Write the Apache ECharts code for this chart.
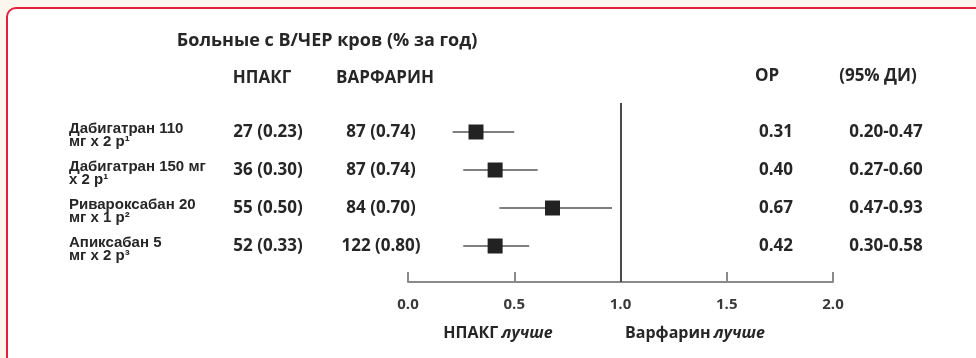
<!DOCTYPE html>
<html>
<head>
<meta charset="utf-8">
<script src="https://cdn.jsdelivr.net/npm/echarts@6/dist/echarts.min.js"></script>
<style>
html,body{margin:0;padding:0;background:#fdf6ee;}
#c{width:976px;height:358px;}
</style>
</head>
<body>
<div id="c"></div>
<script>
// ---- data ----
const categories = ['Дабигатран 110\nмг х 2 р¹', 'Дабигатран 150 мг\nх 2 р¹', 'Ривароксабан 20\nмг х 1 р²', 'Апиксабан 5\nмг х 2 р³'];
const npakgText = ['27 (0.23)', '36 (0.30)', '55 (0.50)', '52 (0.33)'];
const warfarinText = ['87 (0.74)', '87 (0.74)', '84 (0.70)', '122 (0.80)'];
const rrText = ['0.31', '0.40', '0.67', '0.42'];
const ciText = ['0.20-0.47', '0.27-0.60', '0.47-0.93', '0.30-0.58'];
// plotted marks as drawn in the picture
const rrPoint = [0.32, 0.41, 0.68, 0.41];
const ciLow = [0.21, 0.26, 0.43, 0.26];
const ciHigh = [0.50, 0.61, 0.96, 0.57];
const xTicks = [0, 0.5, 1.0, 1.5, 2.0];

const FONT = '"Open Sans", "Liberation Sans", sans-serif';
const TXT = '#262626';

const forestData = categories.map((c, i) => [i, ciLow[i], ciHigh[i], rrPoint[i]]);
const tableData = categories.map((c, i) => [i]);

const chart = echarts.init(document.getElementById('c'), null, {renderer: 'canvas'});
chart.setOption({
  backgroundColor: '#fdf6ee',
  animation: false,
  grid: {left: 408, right: 143, top: 103, bottom: 76},
  xAxis: {
    type: 'value', min: 0, max: 2, interval: 0.5,
    axisLine: {show: true, onZero: false, lineStyle: {color: '#8a8a8a', width: 2}},
    axisTick: {show: true, inside: true, length: 10, lineStyle: {color: '#8a8a8a', width: 2}},
    splitLine: {show: false},
    axisLabel: {margin: 15, color: '#3a3a3a', fontFamily: FONT, fontWeight: 'bold', fontSize: 15,
      formatter: v => v.toFixed(1)}
  },
  yAxis: {type: 'value', inverse: true, min: -0.763, max: 3.947, show: false},
  graphic: [
    {type: 'rect', z: -10, shape: {x: 7, y: 8, width: 1000, height: 400, r: 9},
     style: {fill: '#ffffff', stroke: '#e2203a', lineWidth: 2}},
    {type: 'text', x: 327, y: 41, style: {text: 'Больные с В/ЧЕР кров (% за год)', fill: TXT, font: 'bold 18px ' + FONT, textAlign: 'center', textVerticalAlign: 'middle'}},
    {type: 'text', x: 262, y: 78, style: {text: 'НПАКГ', fill: TXT, font: 'bold 17px ' + FONT, textAlign: 'center', textVerticalAlign: 'middle'}},
    {type: 'text', x: 385, y: 78, style: {text: 'ВАРФАРИН', fill: TXT, font: 'bold 17px ' + FONT, textAlign: 'center', textVerticalAlign: 'middle'}},
    {type: 'text', x: 767, y: 76, style: {text: 'ОР', fill: TXT, font: 'bold 17px ' + FONT, textAlign: 'center', textVerticalAlign: 'middle'}},
    {type: 'text', x: 878, y: 76, style: {text: '(95% ДИ)', fill: TXT, font: 'bold 17px ' + FONT, textAlign: 'center', textVerticalAlign: 'middle'}},
    {type: 'text', x: 498, y: 333, style: {text: '{a|НПАКГ} {i|лучше}', textAlign: 'center', textVerticalAlign: 'middle',
      rich: {a: {fill: TXT, font: 'bold 16px ' + FONT}, i: {fill: TXT, font: 'italic bold 16px ' + FONT}}}},
    {type: 'text', x: 695, y: 333, style: {text: '{a|Варфарин} {i|лучше}', textAlign: 'center', textVerticalAlign: 'middle',
      rich: {a: {fill: TXT, font: 'bold 16px ' + FONT}, i: {fill: TXT, font: 'italic bold 16px ' + FONT}}}}
  ],
  series: [
    {
      type: 'custom',
      data: forestData,
      encode: {x: [1, 2, 3], y: 0},
      renderItem: function (params, api) {
        const y = api.value(0);
        const p1 = api.coord([api.value(1), y]);
        const p2 = api.coord([api.value(2), y]);
        const pm = api.coord([api.value(3), y]);
        const s = 15;
        return {type: 'group', children: [
          {type: 'line', shape: {x1: p1[0], y1: p1[1], x2: p2[0], y2: p2[1]}, style: {stroke: '#555', lineWidth: 1.5}},
          {type: 'rect', shape: {x: pm[0] - s / 2, y: pm[1] - s / 2, width: s, height: s}, style: {fill: '#222'}}
        ]};
      },
      markLine: {
        silent: true, symbol: 'none', label: {show: false},
        lineStyle: {color: '#4a4a4a', width: 2, type: 'solid'},
        data: [{xAxis: 1}]
      }
    },
    {
      type: 'custom',
      data: tableData,
      encode: {y: 0},
      clip: false,
      renderItem: function (params, api) {
        const i = api.value(0);
        const yy = api.coord([0, i])[1];
        const t = (x, txt, align, font) => ({type: 'text', x: x, y: yy,
          style: {text: txt, fill: TXT, font: font, textAlign: align, textVerticalAlign: 'middle'}});
        const vf = 'bold 17px ' + FONT;
        return {type: 'group', children: [
          {type: 'text', x: 69, y: yy + 3, style: {text: categories[i], fill: TXT, font: 'bold 15px "Liberation Sans", sans-serif', lineHeight: 13, textAlign: 'left', textVerticalAlign: 'middle'}},
          t(268, npakgText[i], 'center', vf),
          t(381, warfarinText[i], 'center', vf),
          t(776, rrText[i], 'center', vf),
          t(886, ciText[i], 'center', vf)
        ]};
      }
    }
  ]
});
</script>
</body>
</html>
